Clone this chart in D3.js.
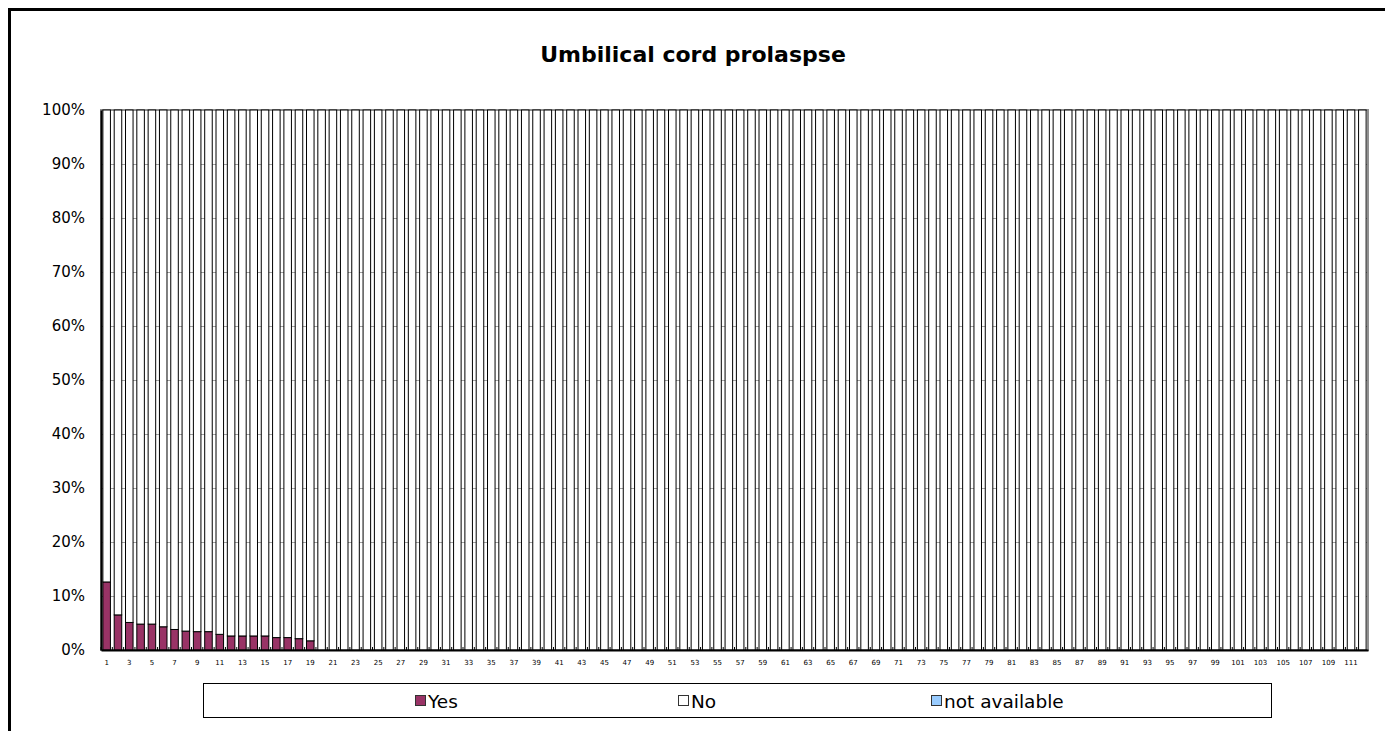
<!DOCTYPE html>
<html>
<head>
<meta charset="utf-8">
<script src="https://cdn.jsdelivr.net/npm/d3@7"></script>
<style>
  body { margin: 0; background: #fff; }
  text { font-family: "DejaVu Sans", sans-serif; }
</style>
</head>
<body>
<div id="chart"></div>
<script>
// category numbers along the x axis
var categories = [
  1,2,3,4,5,6,7,8,9,10,11,12,13,14,15,16,17,18,19,20,
  21,22,23,24,25,26,27,28,29,30,31,32,33,34,35,36,37,38,39,40,
  41,42,43,44,45,46,47,48,49,50,51,52,53,54,55,56,57,58,59,60,
  61,62,63,64,65,66,67,68,69,70,71,72,73,74,75,76,77,78,79,80,
  81,82,83,84,85,86,87,88,89,90,91,92,93,94,95,96,97,98,99,100,
  101,102,103,104,105,106,107,108,109,110,111,112
];

// percent "Yes"
var yesValues = [
  12.6,6.5,5.1,4.8,4.8,4.3,3.8,3.5,3.4,3.4,2.9,2.6,2.6,2.6,2.6,2.3,2.3,2.1,1.7,0,
  0,0,0,0,0,0,0,0,0,0,0,0,0,0,0,0,0,0,0,0,
  0,0,0,0,0,0,0,0,0,0,0,0,0,0,0,0,0,0,0,0,
  0,0,0,0,0,0,0,0,0,0,0,0,0,0,0,0,0,0,0,0,
  0,0,0,0,0,0,0,0,0,0,0,0,0,0,0,0,0,0,0,0,
  0,0,0,0,0,0,0,0,0,0,0,0
];

// percent "No"
var noValues = [
  87.4,93.5,94.9,95.2,95.2,95.7,96.2,96.5,96.6,96.6,97.1,97.4,97.4,97.4,97.4,97.7,97.7,97.9,98.3,100,
  100,100,100,100,100,100,100,100,100,100,100,100,100,100,100,100,100,100,100,100,
  100,100,100,100,100,100,100,100,100,100,100,100,100,100,100,100,100,100,100,100,
  100,100,100,100,100,100,100,100,100,100,100,100,100,100,100,100,100,100,100,100,
  100,100,100,100,100,100,100,100,100,100,100,100,100,100,100,100,100,100,100,100,
  100,100,100,100,100,100,100,100,100,100,100,100
];

// percent "not available"
var naValues = [
  0,0,0,0,0,0,0,0,0,0,0,0,0,0,0,0,0,0,0,0,
  0,0,0,0,0,0,0,0,0,0,0,0,0,0,0,0,0,0,0,0,
  0,0,0,0,0,0,0,0,0,0,0,0,0,0,0,0,0,0,0,0,
  0,0,0,0,0,0,0,0,0,0,0,0,0,0,0,0,0,0,0,0,
  0,0,0,0,0,0,0,0,0,0,0,0,0,0,0,0,0,0,0,0,
  0,0,0,0,0,0,0,0,0,0,0,0
];

var seriesNames = ['Yes', 'No', 'not available'];
var yTicks = [0, 10, 20, 30, 40, 50, 60, 70, 80, 90, 100];

var colors = d3.scaleOrdinal()
  .domain(seriesNames)
  .range(['#993366', '#ffffff', '#99ccff']);

// table for the stack layout
var table = categories.map((c, i) => ({
  cat: c,
  'Yes': yesValues[i],
  'No': noValues[i],
  'not available': naValues[i]
}));

var svg = d3.select('#chart')
  .append('svg')
  .attr('width', 1385)
  .attr('height', 731);

// outer frame (runs past the window on right / bottom)
svg.append('rect')
  .attr('x', 9.5).attr('y', 9.5)
  .attr('width', 1400).attr('height', 760)
  .attr('fill', 'none')
  .attr('stroke', '#000')
  .attr('stroke-width', 3);

svg.append('text')
  .attr('x', 693).attr('y', 62)
  .attr('text-anchor', 'middle')
  .style('font-size', '22px')
  .style('font-weight', 'bold')
  .text('Umbilical cord prolaspse');

// plot box
var plotLeft = 101, plotRight = 1368, plotTop = 110, plotBottom = 650;

var x = d3.scaleBand()
  .domain(categories)
  .range([plotLeft, plotRight])
  .paddingInner(1 / 3)
  .paddingOuter(1 / 6);

var y = d3.scaleLinear()
  .domain([0, 100])
  .range([plotBottom, plotTop]);

// gridlines
svg.append('g')
  .selectAll('line')
  .data(yTicks.filter(t => t > 0 && t < 100))
  .enter()
  .append('line')
  .attr('x1', plotLeft).attr('x2', plotRight)
  .attr('y1', d => Math.round(y(d)) + 0.5)
  .attr('y2', d => Math.round(y(d)) + 0.5)
  .attr('stroke', '#a0a0a0')
  .attr('stroke-width', 1);

// plot border
svg.append('rect')
  .attr('x', plotLeft).attr('y', plotTop)
  .attr('width', plotRight - plotLeft).attr('height', plotBottom - plotTop)
  .attr('fill', 'none')
  .attr('stroke', '#909090')
  .attr('stroke-width', 2);

var stack = d3.stack().keys(seriesNames);
var layers = stack(table);

svg.append('g')
  .selectAll('g')
  .data(layers)
  .enter()
  .append('g')
  .attr('fill', d => colors(d.key))
  .selectAll('rect')
  .data(d => d.filter(p => p[1] > p[0]))
  .enter()
  .append('rect')
  .attr('x', d => x(d.data.cat))
  .attr('width', x.bandwidth())
  .attr('y', d => y(d[1]))
  .attr('height', d => y(d[0]) - y(d[1]))
  .attr('stroke', '#000')
  .attr('stroke-width', 1);

// axes
var yAxis = d3.axisLeft(y)
  .tickValues(yTicks)
  .tickSize(0)
  .tickPadding(16)
  .tickFormat(d => d + '%');

svg.append('g')
  .attr('transform', `translate(${plotLeft},0)`)
  .call(yAxis)
  .call(g => g.select('.domain').attr('stroke', '#000').attr('stroke-width', 2))
  .selectAll('text')
  .style('font-size', '15px')
  .style('font-family', '"DejaVu Sans", sans-serif')
  .attr('fill', '#000');

var xAxis = d3.axisBottom(x)
  .tickValues(categories.filter(c => c % 2 === 1))
  .tickSize(0)
  .tickPadding(10);

svg.append('g')
  .attr('transform', `translate(0,${plotBottom})`)
  .call(xAxis)
  .call(g => g.select('.domain').attr('stroke', '#000').attr('stroke-width', 2))
  .selectAll('text')
  .style('font-size', '7px')
  .style('font-family', '"DejaVu Sans", sans-serif')
  .attr('fill', '#000');

// small category ticks inside the axis
svg.append('g')
  .selectAll('line')
  .data(categories)
  .enter()
  .append('line')
  .attr('x1', d => x(d) - x.step() * x.paddingInner() / 2)
  .attr('x2', d => x(d) - x.step() * x.paddingInner() / 2)
  .attr('y1', plotBottom - 3)
  .attr('y2', plotBottom)
  .attr('stroke', '#000')
  .attr('stroke-width', 1);

// legend
var legend = svg.append('g');
legend.append('rect')
  .attr('x', 203.5).attr('y', 683.5)
  .attr('width', 1068).attr('height', 34)
  .attr('fill', '#fff')
  .attr('stroke', '#000')
  .attr('stroke-width', 1);

var legendX = [415, 678, 931];
var items = legend.selectAll('g.item')
  .data(seriesNames)
  .enter()
  .append('g')
  .attr('class', 'item')
  .attr('transform', (d, i) => `translate(${legendX[i]},701)`);

items.append('rect')
  .attr('x', 0.5).attr('y', -5.5)
  .attr('width', 10).attr('height', 10)
  .attr('fill', d => colors(d))
  .attr('stroke', '#333');

items.append('text')
  .attr('x', 13).attr('y', 7)
  .style('font-size', '18.5px')
  .text(d => d);
</script>
</body>
</html>
